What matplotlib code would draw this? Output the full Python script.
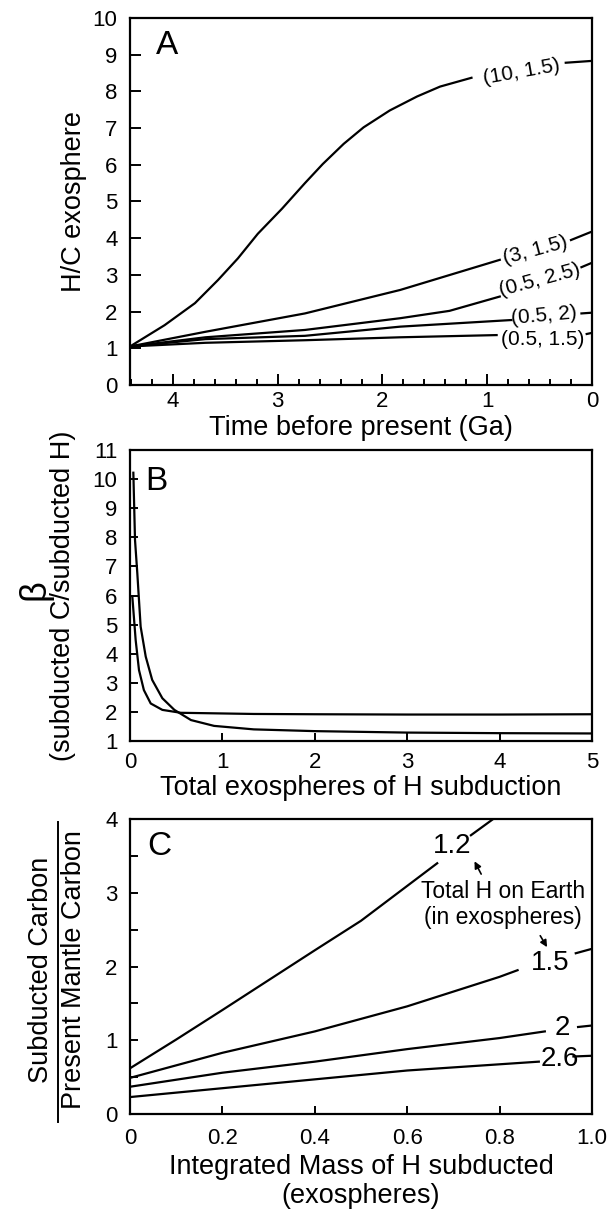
import numpy as np
import matplotlib.pyplot as plt
from matplotlib.lines import Line2D
from matplotlib.ticker import MultipleLocator

plt.rcParams['font.family'] = ['Liberation Sans', 'DejaVu Sans']

nan = np.nan

# ---- panel A: H/C of exosphere vs time (Ga before present)
a_labels = ["(10, 1.5)", "(3, 1.5)", "(0.5, 2.5)", "(0.5, 2)", "(0.5, 1.5)"]
a_t_10_15 = [4.41, 4.08, 3.79, 3.57, 3.38, 3.19, 2.96, 2.74, 2.57, 2.37, 2.18, 1.93, 1.67, 1.45, 1.15, nan, 0.25, 0.0]
a_v_10_15 = [1.05, 1.63, 2.23, 2.86, 3.45, 4.12, 4.80, 5.50, 6.02, 6.57, 7.02, 7.48, 7.86, 8.13, 8.37, nan, 8.78, 8.83]
a_t_3_15 = [4.41, 3.69, 2.74, 1.83, 0.88, nan, 0.20, 0.0]
a_v_3_15 = [1.05, 1.45, 1.95, 2.59, 3.41, nan, 3.95, 4.18]
a_t_05_25 = [4.41, 3.69, 2.74, 1.83, 1.36, 0.88, nan, 0.10, 0.0]
a_v_05_25 = [1.05, 1.30, 1.50, 1.82, 2.02, 2.41, nan, 3.21, 3.33]
a_t_05_2 = [4.41, 3.69, 2.74, 1.83, 0.77, nan, 0.10, 0.0]
a_v_05_2 = [1.05, 1.25, 1.34, 1.59, 1.77, nan, 1.95, 1.97]
a_t_05_15 = [4.41, 3.69, 2.74, 1.83, 0.91, nan, 0.05, 0.0]
a_v_05_15 = [1.05, 1.15, 1.22, 1.30, 1.36, nan, 1.39, 1.42]
# label anchor (t, value, rotation)
a_lab_pos = [(0.67, 8.54, 10), (0.54, 3.68, 15), (0.50, 2.86, 15), (0.46, 1.90, 5), (0.47, 1.25, 0)]

# ---- panel B: beta vs total exospheres of H subducted
b_x1 = [0.036, 0.054, 0.079, 0.115, 0.17, 0.24, 0.35, 0.48, 0.66, 0.91, 1.34, 2.0, 3.0, 4.0, 5.0]
b_v1 = [10.22, 7.91, 6.76, 4.93, 3.90, 3.10, 2.47, 2.07, 1.72, 1.52, 1.40, 1.34, 1.29, 1.27, 1.26]
b_x2 = [0.025, 0.061, 0.097, 0.15, 0.224, 0.35, 0.55, 1.34, 2.0, 3.0, 4.0, 5.0]
b_v2 = [5.96, 4.47, 3.44, 2.75, 2.29, 2.07, 1.97, 1.93, 1.92, 1.91, 1.91, 1.92]

# ---- panel C: subducted / present mantle carbon
c_labels = ["1.2", "1.5", "2", "2.6"]
c_x_12 = [0, 0.1, 0.2, 0.4, 0.5, 0.665, nan, 0.738, 0.784]
c_v_12 = [0.62, 1.01, 1.41, 2.22, 2.62, 3.40, nan, 3.78, 3.99]
c_x_15 = [0, 0.2, 0.4, 0.6, 0.8, 0.839, nan, 0.965, 1.0]
c_v_15 = [0.49, 0.83, 1.12, 1.46, 1.86, 1.95, nan, 2.18, 2.24]
c_x_2 = [0, 0.2, 0.4, 0.6, 0.8, 0.898, nan, 0.97, 1.0]
c_v_2 = [0.37, 0.56, 0.71, 0.88, 1.03, 1.12, nan, 1.18, 1.20]
c_x_26 = [0, 0.2, 0.4, 0.6, 0.885, nan, 0.96, 1.0]
c_v_26 = [0.23, 0.35, 0.47, 0.59, 0.71, nan, 0.78, 0.79]
c_lab_pos = [(0.698, 3.63), (0.91, 2.05), (0.936, 1.16), (0.93, 0.745)]

TICK = 16
LAB = 19.5
LW = 1.6

fig = plt.figure(figsize=(6.11, 12.13), dpi=100)


def style(ax, xpad, ypad, major_len):
    for s in ax.spines.values():
        s.set_linewidth(1.6)
    ax.tick_params(which='both', direction='in', width=1.4, labelsize=TICK)
    ax.tick_params(which='major', length=major_len)
    ax.tick_params(which='minor', length=4)
    ax.tick_params(axis='x', pad=xpad)
    ax.tick_params(axis='y', pad=ypad)


# A
axA = fig.add_axes([0.2128, 0.6826, 0.756, 0.3026])
for t, v in [(a_t_10_15, a_v_10_15), (a_t_3_15, a_v_3_15), (a_t_05_25, a_v_05_25),
             (a_t_05_2, a_v_05_2), (a_t_05_15, a_v_05_15)]:
    axA.plot(t, v, color='black', lw=LW)
for lab, (t, v, r) in zip(a_labels, a_lab_pos):
    axA.text(t, v, lab, fontsize=15, rotation=r, ha='center', va='center', rotation_mode='anchor')
axA.set_xlim(4.41, 0)
axA.set_ylim(0, 10)
axA.set_xticks([4, 3, 2, 1, 0])
axA.xaxis.set_minor_locator(MultipleLocator(0.2))
axA.set_yticks(range(0, 11))
style(axA, 4, 9, 8)
axA.text(0.081, 0.926, "A", transform=axA.transAxes, fontsize=24, ha='center', va='center')
axA.text(0.5, -0.116, "Time before present (Ga)", transform=axA.transAxes, fontsize=LAB,
         ha='center', va='center')
axA.text(-0.121, 0.5, "H/C exosphere", transform=axA.transAxes, fontsize=LAB,
         ha='center', va='center', rotation=90)

# B
axB = fig.add_axes([0.2128, 0.3891, 0.756, 0.2399])
axB.plot(b_x1, b_v1, color='black', lw=LW)
axB.plot(b_x2, b_v2, color='black', lw=LW)
axB.set_xlim(0, 5)
axB.set_ylim(1, 11)
axB.set_xticks(range(0, 6))
axB.set_yticks(range(1, 12))
style(axB, 8, 9, 6)
axB.text(0.058, 0.891, "B", transform=axB.transAxes, fontsize=24, ha='center', va='center')
axB.text(0.5, -0.162, "Total exospheres of H subduction", transform=axB.transAxes, fontsize=LAB,
         ha='center', va='center')
axB.text(-0.205, 0.52, "β", transform=axB.transAxes, fontsize=26,
         ha='center', va='center', rotation=90)
axB.text(-0.146, 0.5, "(subducted C/subducted H)", transform=axB.transAxes, fontsize=LAB,
         ha='center', va='center', rotation=90)

# C
axC = fig.add_axes([0.2128, 0.0816, 0.756, 0.2432])
for x, v in [(c_x_12, c_v_12), (c_x_15, c_v_15), (c_x_2, c_v_2), (c_x_26, c_v_26)]:
    axC.plot(x, v, color='black', lw=LW)
for lab, (x, v) in zip(c_labels, c_lab_pos):
    axC.text(x, v, lab, fontsize=20, ha='center', va='center')
axC.text(0.807, 2.84, "Total H on Earth\n(in exospheres)", fontsize=16.5, ha='center', va='center',
         linespacing=1.2)
axC.annotate('', xy=(0.743, 3.46), xytext=(0.763, 3.22),
             arrowprops=dict(arrowstyle='-|>', lw=1.2, color='black', mutation_scale=10))
axC.annotate('', xy=(0.906, 2.23), xytext=(0.885, 2.45),
             arrowprops=dict(arrowstyle='-|>', lw=1.2, color='black', mutation_scale=10))
axC.set_xlim(0, 1.0)
axC.set_ylim(0, 4)
axC.set_xticks([0, 0.2, 0.4, 0.6, 0.8, 1.0])
axC.set_xticklabels(["0", "0.2", "0.4", "0.6", "0.8", "1.0"])
axC.set_yticks(range(0, 5))
axC.yaxis.set_minor_locator(MultipleLocator(0.5))
style(axC, 10, 9, 6)
axC.tick_params(which='minor', length=6)
axC.text(0.064, 0.906, "C", transform=axC.transAxes, fontsize=24, ha='center', va='center')
axC.text(0.5, -0.228, "Integrated Mass of H subducted\n(exospheres)", transform=axC.transAxes,
         fontsize=LAB, ha='center', va='center', linespacing=1.15)

# fraction-style y label for C
fig.text(0.067, 0.2003, "Subducted Carbon", fontsize=LAB, ha='center', va='center', rotation=90)
fig.text(0.121, 0.2003, "Present Mantle Carbon", fontsize=LAB, ha='center', va='center', rotation=90)
fig.add_artist(Line2D([0.095, 0.095], [0.075, 0.3224], color='black', lw=1.4,
                      transform=fig.transFigure))

fig.savefig("out.png", dpi=100)
